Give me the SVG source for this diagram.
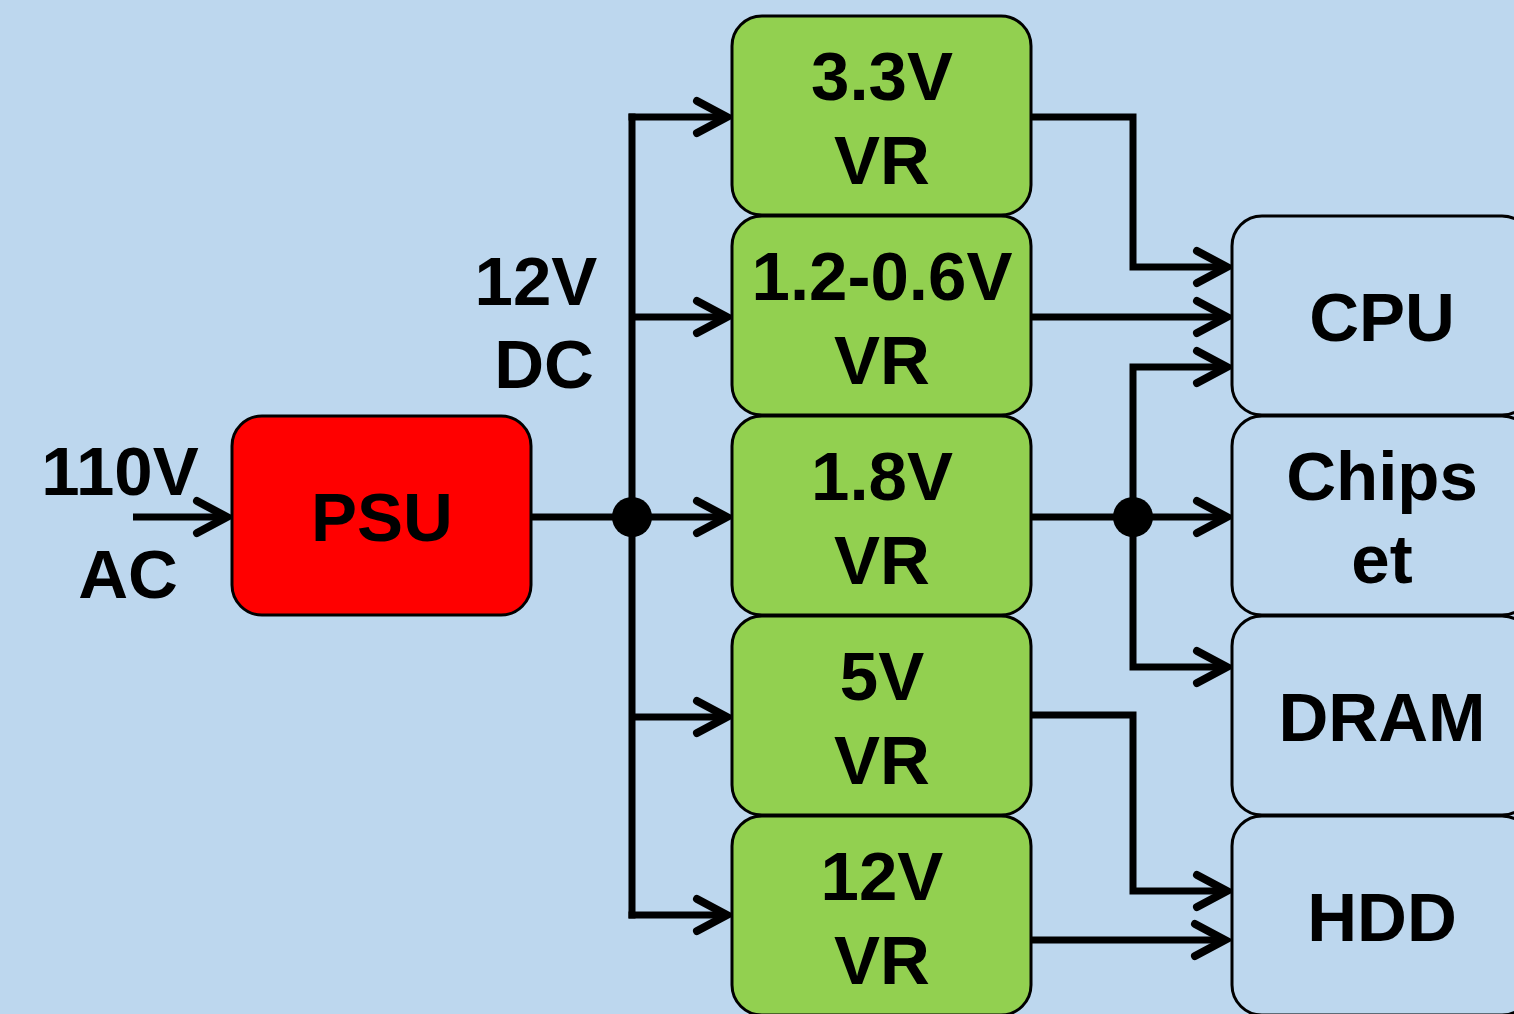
<svg xmlns="http://www.w3.org/2000/svg" width="1514" height="1014" viewBox="0 0 1514 1014">
<style>
.bg{fill:#BDD7EE}
.vr{fill:#92D050;stroke:#000;stroke-width:3}
.dev{fill:#BDD7EE;stroke:#000;stroke-width:3}
.psu{fill:#FF0000;stroke:#000;stroke-width:3}
text{font-family:"Liberation Sans",Arial,sans-serif;font-weight:bold;font-size:69px;fill:#000;text-anchor:middle}
.w{fill:none;stroke:#000;stroke-width:7;stroke-linejoin:miter}
.a{marker-end:url(#arr)}
</style>
<defs>
<marker id="arr" markerUnits="userSpaceOnUse" viewBox="-40 -22 44 44" refX="0" refY="0" markerWidth="44" markerHeight="44" orient="auto" overflow="visible">
<path d="M-30,-16 L0,0 L-30,16" fill="none" stroke="#000" stroke-width="8" stroke-linecap="round" stroke-linejoin="miter"/>
</marker>
</defs>
<rect class="bg" x="0" y="0" width="1514" height="1014"/>

<g id="connectors">
<line class="w a" x1="133" y1="517" x2="227" y2="517"/>
<line class="w" x1="531" y1="517" x2="632" y2="517"/>
<line class="w" x1="632" y1="113.5" x2="632" y2="918.5"/>
<polyline class="w a" points="628.5,117 727,117"/>
<line class="w a" x1="632" y1="317" x2="727" y2="317"/>
<line class="w a" x1="632" y1="517" x2="727" y2="517"/>
<line class="w a" x1="632" y1="717" x2="727" y2="717"/>
<polyline class="w a" points="628.5,915 727,915"/>
<circle cx="632" cy="517" r="20" fill="#000"/>

<polyline class="w a" points="1031,117 1133,117 1133,267 1227,267"/>
<line class="w a" x1="1031" y1="317" x2="1227" y2="317"/>
<line class="w a" x1="1031" y1="517" x2="1227" y2="517"/>
<polyline class="w a" points="1133,517 1133,367 1227,367"/>
<polyline class="w a" points="1133,517 1133,667 1227,667"/>
<circle cx="1133" cy="517" r="20" fill="#000"/>
<polyline class="w a" points="1031,715 1133,715 1133,891 1227,891"/>
<line class="w a" x1="1031" y1="940" x2="1225" y2="940"/>
</g>

<g id="input-label">
<text x="120" y="495">110V</text>
<text x="128" y="598">AC</text>
</g>
<g id="bus-label">
<text x="536" y="305">12V</text>
<text x="544" y="388">DC</text>
</g>

<g id="psu">
<rect class="psu" x="232" y="416" width="299" height="199" rx="30"/>
<text x="382" y="541">PSU</text>
</g>

<g id="vr33">
<rect class="vr" x="732" y="16" width="299" height="199" rx="30"/>
<text x="882" y="100">3.3V</text>
<text x="882" y="184">VR</text>
</g>
<g id="vr12-06">
<rect class="vr" x="732" y="216" width="299" height="199" rx="30"/>
<text x="882" y="300">1.2-0.6V</text>
<text x="882" y="384">VR</text>
</g>
<g id="vr18">
<rect class="vr" x="732" y="416" width="299" height="199" rx="30"/>
<text x="882" y="500">1.8V</text>
<text x="882" y="584">VR</text>
</g>
<g id="vr5">
<rect class="vr" x="732" y="616" width="299" height="199" rx="30"/>
<text x="882" y="700">5V</text>
<text x="882" y="784">VR</text>
</g>
<g id="vr12">
<rect class="vr" x="732" y="816" width="299" height="199" rx="30"/>
<text x="882" y="900">12V</text>
<text x="882" y="984">VR</text>
</g>

<g id="cpu">
<rect class="dev" x="1232" y="216" width="300" height="199" rx="30"/>
<text x="1382" y="341">CPU</text>
</g>
<g id="chipset">
<rect class="dev" x="1232" y="416" width="300" height="199" rx="30"/>
<text x="1382" y="500">Chips</text>
<text x="1382" y="583">et</text>
</g>
<g id="dram">
<rect class="dev" x="1232" y="616" width="300" height="199" rx="30"/>
<text x="1382" y="741">DRAM</text>
</g>
<g id="hdd">
<rect class="dev" x="1232" y="816" width="300" height="199" rx="30"/>
<text x="1382" y="941">HDD</text>
</g>
</svg>
